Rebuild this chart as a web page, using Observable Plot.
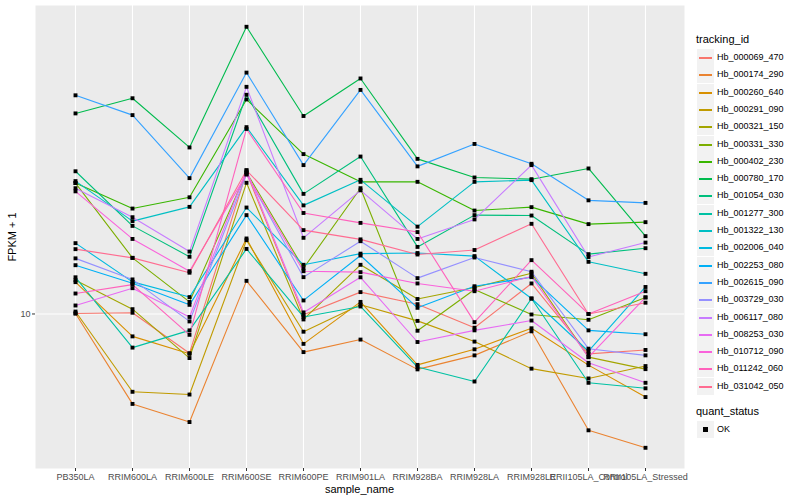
<!DOCTYPE html>
<html><head><meta charset="utf-8">
<script src="https://cdn.jsdelivr.net/npm/d3@7"></script>
<script src="https://cdn.jsdelivr.net/npm/@observablehq/plot@0.6"></script>
<style>
body{margin:0;background:#fff;font-family:"Liberation Sans",Arial,sans-serif;}
#wrap{position:relative;width:800px;height:500px;overflow:hidden;}
#wrap svg{position:absolute;left:0;top:0;}
.lab{position:absolute;white-space:nowrap;color:#000;}
.ltitle{position:absolute;font-size:11px;color:#000;white-space:nowrap;}
.key{position:absolute;left:697px;width:17px;height:17px;background:#F2F2F2;}
.key span{position:absolute;display:block;left:2px;width:13px;top:8px;height:1.6px;}
.ktext{position:absolute;left:717px;font-size:9px;color:#000;white-space:nowrap;line-height:12px;}
</style></head>
<body><div id="wrap"></div>
<script>
const samples = ["PB350LA","RRIM600LA","RRIM600LE","RRIM600SE","RRIM600PE","RRIM901LA","RRIM928BA","RRIM928LA","RRIM928LE","RRII105LA_Control","RRII105LA_Stressed"];
const trackingIds = ["Hb_000069_470","Hb_000174_290","Hb_000260_640","Hb_000291_090","Hb_000321_150","Hb_000331_330","Hb_000402_230","Hb_000780_170","Hb_001054_030","Hb_001277_300","Hb_001322_130","Hb_002006_040","Hb_002253_080","Hb_002615_090","Hb_003729_030","Hb_006117_080","Hb_008253_030","Hb_010712_090","Hb_011242_060","Hb_031042_050"];
const colors = ["#F8766D","#EA8331","#D89000","#C09B00","#A3A500","#7CAE00","#39B600","#00BB4E","#00BF7D","#00C1A3","#00BFC4","#00BAE0","#00B0F6","#35A2FF","#9590FF","#C77CFF","#E76BF3","#FA62DB","#FF62BC","#FF6C91"];
const yTicks = [10];

// FPKM + 1 per sample (order of samples)
const hb_000069_470 = [10.03,10.07,7.98,22.58,9.95,11.34,10.58,9.24,11.92,7.95,8.13];
const hb_000174_290 = [10.03,5.96,5.37,12.10,8.03,8.63,7.27,7.88,9.05,5.12,4.63];
const hb_000260_640 = [12.01,8.79,7.95,15.44,8.42,10.72,7.46,8.16,9.21,7.45,6.20];
const hb_000291_090 = [10.14,6.39,6.29,15.29,9.03,10.55,9.61,8.53,7.30,6.90,7.41];
const hb_000321_150 = [12.14,10.28,7.76,21.27,9.69,13.27,10.90,11.64,12.64,7.80,7.28];
const hb_000331_330 = [21.24,13.81,10.72,22.58,13.01,20.62,9.08,11.51,9.97,9.67,11.0];
const hb_000402_230 = [21.24,18.34,19.57,34.36,25.09,21.39,21.39,18.13,18.49,16.77,16.96];
const hb_000780_170 = [31.71,34.6,26.07,52.2,31.24,38.77,24.41,21.93,21.72,23.1,15.65];
const hb_001054_030 = [22.73,16.6,13.9,35.3,19.96,24.74,14.71,17.66,17.62,14.11,14.6];
const hb_001277_300 = [12.35,8.24,9.10,14.54,9.83,10.44,7.37,6.78,10.93,6.73,6.52];
const hb_001322_130 = [21.48,17.06,18.52,29.3,18.68,21.64,16.53,21.39,21.6,13.5,12.6];
const hb_002006_040 = [15.03,12.03,11.02,18.45,13.27,14.15,14.2,13.95,10.93,8.07,11.68];
const hb_002253_080 = [13.24,11.93,10.54,17.66,10.81,14.0,10.36,11.73,12.36,9.10,8.90];
const hb_002615_090 = [35.19,31.4,21.85,40.1,23.55,36.3,23.38,26.6,23.73,19.23,18.95];
const hb_003729_030 = [13.77,12.2,9.58,22.33,12.36,15.2,12.29,13.84,12.75,8.19,7.88];
const hb_006117_080 = [20.62,17.45,14.32,36.95,15.5,20.37,15.4,17.23,23.55,13.88,15.08];
const hb_008253_030 = [10.5,11.6,9.83,22.86,10.09,12.35,8.51,9.10,9.63,7.55,6.73];
const hb_010712_090 = [20.25,15.4,12.79,22.33,12.79,12.72,11.92,11.4,12.41,7.80,11.0];
const hb_011242_060 = [11.25,11.84,8.87,29.0,17.88,16.89,16.02,9.54,13.63,10.0,11.4];
const hb_031042_050 = [14.52,13.81,12.68,22.86,16.2,15.36,14.08,14.45,16.8,10.0,10.67];

const series = [hb_000069_470,hb_000174_290,hb_000260_640,hb_000291_090,hb_000321_150,hb_000331_330,hb_000402_230,hb_000780_170,hb_001054_030,hb_001277_300,hb_001322_130,hb_002006_040,hb_002253_080,hb_002615_090,hb_003729_030,hb_006117_080,hb_008253_030,hb_010712_090,hb_011242_060,hb_031042_050];

const rows = [];
series.forEach((vals, i) => vals.forEach((v, j) => rows.push({id: trackingIds[i], sample: samples[j], value: v})));

const chart = Plot.plot({
  width: 800, height: 500,
  marginLeft: 35, marginRight: 116, marginTop: 5, marginBottom: 32,
  style: {fontFamily: '"Liberation Sans", Arial, sans-serif', fontSize: "9px", color: "#4D4D4D", background: "transparent"},
  x: {type: "point", domain: samples, padding: 0.6},
  y: {type: "log", domain: [4.11, 59.0]},
  color: {domain: trackingIds, range: colors},
  marks: [
    Plot.frame({fill: "#EBEBEB", stroke: "none"}),
    Plot.gridX({stroke: "white", strokeOpacity: 1, strokeWidth: 1.1}),
    Plot.gridY(yTicks, {stroke: "white", strokeOpacity: 1, strokeWidth: 1.1}),
    Plot.line(rows, {x: "sample", y: "value", z: "id", stroke: "id", strokeWidth: 1.1}),
    Plot.dot(rows, {x: "sample", y: "value", symbol: "square", fill: "black", r: 2.2}),
    Plot.axisX({tickSize: 3, tickPadding: 2, stroke: "#333333", fill: "#4D4D4D", label: null}),
    Plot.axisY(yTicks, {tickSize: 3, tickPadding: 2, stroke: "#333333", fill: "#4D4D4D", tickFormat: d => String(d), label: null})
  ]
});
const wrap = document.getElementById("wrap");
wrap.appendChild(chart);

function addDiv(cls, text, css) {
  const d = document.createElement("div");
  d.className = cls; if (text != null) d.textContent = text;
  Object.assign(d.style, css); wrap.appendChild(d); return d;
}
// axis titles
addDiv("lab", "sample_name", {left: "359.5px", top: "482.5px", fontSize: "11px", transform: "translateX(-50%)"});
addDiv("lab", "FPKM + 1", {left: "12px", top: "236.5px", fontSize: "11px", transform: "translate(-50%,-50%) rotate(-90deg)"});
// legend
addDiv("ltitle", "tracking_id", {left: "696px", top: "33px"});
trackingIds.forEach((id, i) => {
  const cy = 57 + 17.3 * i;
  const k = addDiv("key", null, {top: Math.round(cy - 8) + "px"});
  const ln = document.createElement("span"); ln.style.background = colors[i]; k.appendChild(ln);
  addDiv("ktext", id, {top: (cy - 6) + "px"});
});
addDiv("ltitle", "quant_status", {left: "696px", top: "405px"});
const ok = addDiv("key", null, {top: (429 - 8) + "px"});
const sq = document.createElement("span");
Object.assign(sq.style, {left: "6px", width: "5px", top: "6px", height: "5px", background: "black"});
ok.appendChild(sq);
addDiv("ktext", "OK", {top: (429 - 6) + "px"});
</script></body></html>
